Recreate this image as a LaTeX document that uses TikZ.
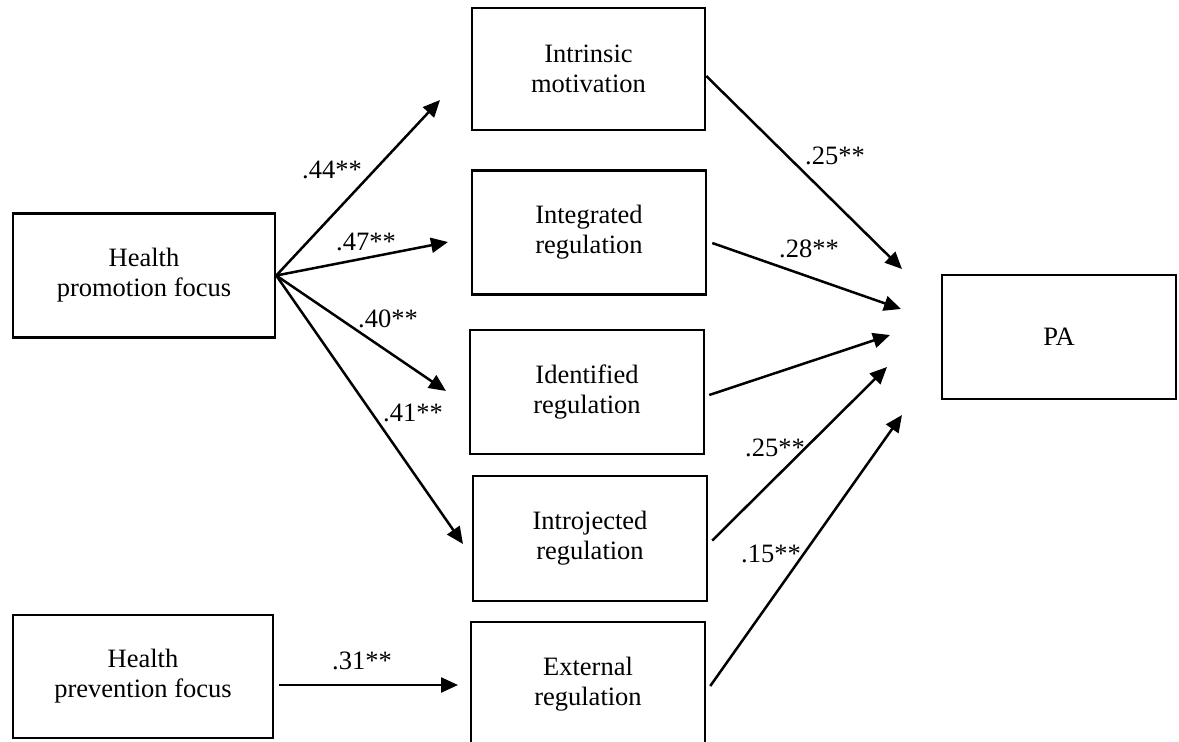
\documentclass[tikz,border=0pt]{standalone}
\usepackage{fontspec}
\setmainfont{Liberation Serif}
\usetikzlibrary{arrows.meta,calc}
\begin{document}
\begin{tikzpicture}[x=1pt,y=-1pt,
 box/.style={draw,line width=2.5pt,minimum width=234pt,minimum height=124pt,align=center,inner sep=0pt,font=\fontsize{26.5}{30}\selectfont},
 arr/.style={line width=2.5pt,-{Triangle[length=17pt,width=15pt]}},
 lab/.style={font=\fontsize{26.5}{30}\selectfont,inner sep=0pt}]
\useasboundingbox (0,0) rectangle (1179,742);
% boxes
\node[box,minimum width=262pt] (hpro) at (144,275.5) {Health\\promotion focus};
\node[box,minimum width=260pt,minimum height=123pt] (hpre) at (143,676.5) {Health\\prevention focus};
\node[box,minimum width=233pt,minimum height=122pt] (intr) at (588.5,69) {Intrinsic\\motivation};
\node[box] (integ) at (589,232.5) {Integrated\\regulation};
\node[box] (ident) at (587,392) {Identified\\regulation};
\node[box,minimum height=125pt] (intro) at (590,538.5) {Introjected\\regulation};
\node[box] (ext) at (588,684) {External\\regulation};
\node[box] (pa) at (1059,337) {PA};
% free arrow ends
\coordinate (t1) at (440,100);
\coordinate (t2) at (448,242);
\coordinate (t3) at (446,391);
\coordinate (t4) at (463,544);
\coordinate (t5) at (458,685);
\coordinate (p1) at (902,269);
\coordinate (p2) at (901,309);
\coordinate (p3) at (890,335);
\coordinate (p4) at (887,367);
\coordinate (p5) at (902,415);
% promotion arrows
\draw[arr] (hpro.east) -- (t1);
\draw[arr] (hpro.east) -- (t2);
\draw[arr] (hpro.east) -- (t3);
\draw[arr] (hpro.east) -- (t4);
\draw[arr] ($(hpre.east)+(5,8.5)$) -- (t5);
% to PA
\draw[arr] ($(intr.east)+(0,7)$) -- (p1);
\draw[arr] ($(integ.east)+(5,10.5)$) -- (p2);
\draw[arr] ($(ident.east)+(4,3)$) -- (p3);
\draw[arr] ($(intro.east)+(4,2)$) -- (p4);
\draw[arr] ($(ext.east)+(4,2)$) -- (p5);
% labels
\node[lab] (l44) at (332,170) {.44**};
\node[lab] (l47) at (366,242) {.47**};
\node[lab] (l40) at (388,319) {.40**};
\node[lab] (l41) at (413,413) {.41**};
\node[lab] (l31) at (362,661) {.31**};
\node[lab] (l25a) at (835,156) {.25**};
\node[lab] (l28) at (809,249) {.28**};
\node[lab] (l25b) at (775,448) {.25**};
\node[lab] (l15) at (771,554) {.15**};
\end{tikzpicture}
\end{document}
